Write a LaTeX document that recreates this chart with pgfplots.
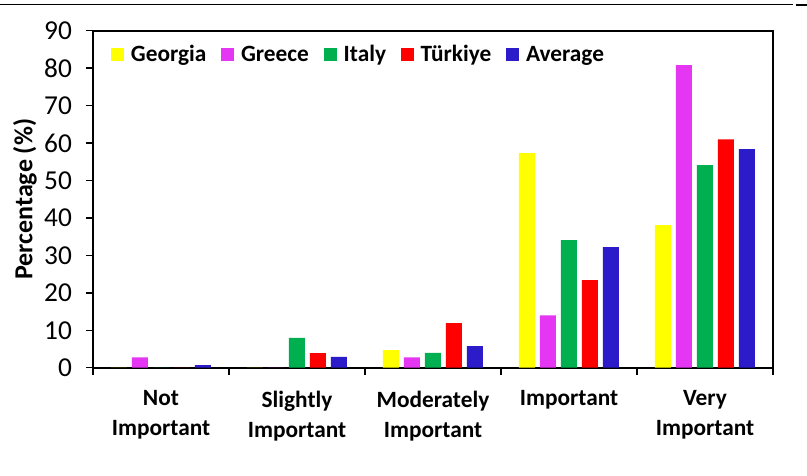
\documentclass[border=0pt]{standalone}
\usepackage{pgfplots}
\pgfplotsset{compat=1.18}
\usepackage{fontspec}
\setmainfont{Carlito}

\definecolor{cGeo}{RGB}{255,255,0}
\definecolor{cGre}{RGB}{229,54,243}
\definecolor{cIta}{RGB}{0,176,80}
\definecolor{cTur}{RGB}{255,0,0}
\definecolor{cAvg}{RGB}{43,27,200}

\begin{document}
\begin{tikzpicture}
  \useasboundingbox (-69.75pt,-80.5pt) rectangle (535.5pt,275.8pt);
  % thin rule across the top of the figure
  \draw[line width=1.1pt] (-69.75pt,272.5pt) -- (525pt,272.5pt);
  \draw[line width=1.6pt] (527pt,272pt) -- (535.5pt,272pt);
  \begin{axis}[
      scale only axis,
      width=510pt, height=252.75pt,
      ybar, ybar=3.75pt, bar width=12pt,
      xmin=0.5, xmax=5.5,
      ymin=0, ymax=90,
      ytick={0,10,...,90},
      xtick={1,2,3,4,5},
      xticklabels={{Not\\Important},{Slightly\\Important},{Moderately\\Important},{Important},{Very\\Important}},
      minor xtick={0.5,1.5,...,5.5},
      major x tick style={draw=none},
      tick align=outside,
      major tick length=5.25pt,
      minor tick length=5.25pt,
      ytick pos=left, xtick pos=bottom,
      axis line style={line width=1.2pt},
      every tick/.style={line width=1.1pt, black},
      /pgf/number format/assume math mode=true,
      yticklabel style={font=\fontsize{20.5}{24}\selectfont, xshift=-7pt},
      xticklabel style={font=\bfseries\fontsize{17.5}{22.5}\selectfont, align=center, anchor=north, yshift=-8.5pt},
      ylabel={Percentage (\%)},
      ylabel style={font=\bfseries\fontsize{19.5}{23}\selectfont, at={(axis description cs:-0.1,0.5)}, anchor=center},
      legend style={at={(0.026,0.965)}, anchor=north west, draw=none, fill=none,
        legend columns=-1, font=\bfseries\fontsize{17.5}{21}\selectfont,
        /tikz/every even column/.append style={column sep=9pt},
        legend cell align=left, inner sep=0pt},
      legend image code/.code={\fill[#1] (0pt,-5pt) rectangle (10pt,5pt); \path (13pt,0pt);},
    ]
    \addplot[fill=cGeo, draw=none] coordinates {(1,0) (2,0) (3,4.7) (4,57.3) (5,38.1)};
    \addplot[fill=cGre, draw=none] coordinates {(1,2.8) (2,0) (3,2.8) (4,14.0) (5,80.8)};
    \addplot[fill=cIta, draw=none] coordinates {(1,0) (2,8.0) (3,4.0) (4,34.1) (5,54.1)};
    \addplot[fill=cTur, draw=none] coordinates {(1,0) (2,3.9) (3,11.9) (4,23.4) (5,61.0)};
    \addplot[fill=cAvg, draw=none] coordinates {(1,0.7) (2,2.9) (3,5.8) (4,32.2) (5,58.4)};
    \legend{Georgia, Greece, Italy, Türkiye, Average}
  \end{axis}
\end{tikzpicture}
\end{document}
